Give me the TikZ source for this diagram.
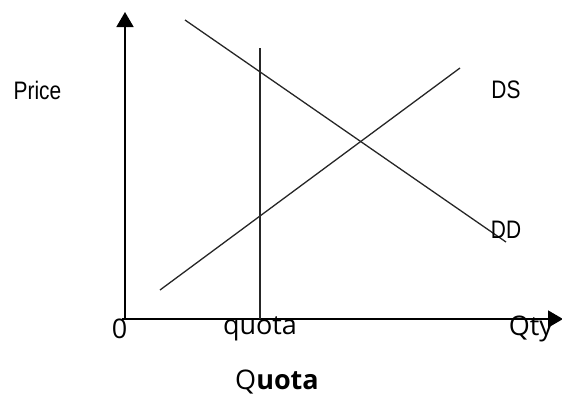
\documentclass[tikz,border=0pt]{standalone}
\usepackage{fontspec}
\setmainfont{Liberation Sans}
\newfontfamily\osans{Open Sans}
\usetikzlibrary{arrows.meta}
\begin{document}
\begin{tikzpicture}[x=1pt,y=-1pt,
  axis/.style={line width=1.7pt,black},
  curve/.style={line width=1.3pt,black!85},
  lab/.style={inner sep=0pt,font=\fontsize{22}{22}\selectfont},
  olab/.style={inner sep=0pt,font=\osans\fontsize{27}{27}\selectfont}]
\useasboundingbox (0,0) rectangle (562,397);
\coordinate (o) at (125,319);
\coordinate (ytop) at (125,12);
\coordinate (xend) at (563,319);
\draw[axis,-{Triangle[width=17pt,length=15pt]}] (o) -- (ytop);
\draw[axis,-{Triangle[width=17pt,length=15pt]}] (122,319) -- (xend);
\coordinate (dd1) at (185,20);
\coordinate (dd2) at (506,242);
\coordinate (ds1) at (160,290);
\coordinate (ds2) at (460,68);
\coordinate (q1) at (260,48);
\coordinate (q2) at (260,319);
\draw[curve] (dd1) -- (dd2);
\draw[curve] (ds1) -- (ds2);
\draw[curve] (q1) -- (q2);
\node[lab] (price) at (37.5,90) {\scalebox{0.95}[1.15]{Price}};
\node[lab] (dslab) at (506,90) {\scalebox{0.95}[1.15]{DS}};
\node[lab] (ddlab) at (506,230) {\scalebox{0.95}[1.15]{DD}};
\node[olab] (zero) at (119.5,329) {0};
\node[olab] (quota) at (260,329) {quota};
\node[olab] (qty) at (531,329) {Qty};
\node[inner sep=0pt,font=\osans\fontsize{27}{27}\selectfont] (title) at (277,382) {Q\textbf{uota}};
\end{tikzpicture}
\end{document}
